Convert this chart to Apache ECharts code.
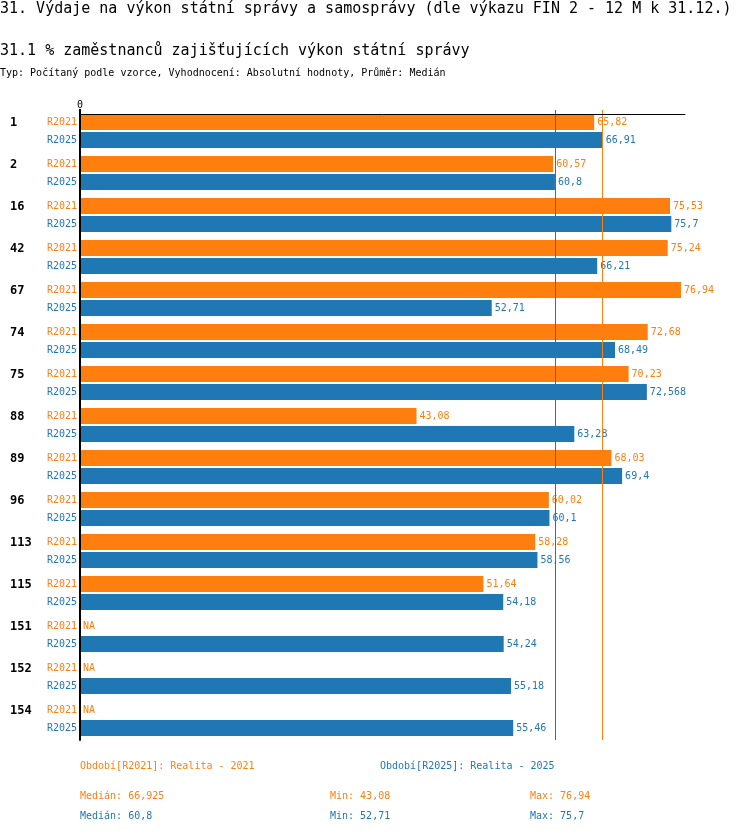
<!DOCTYPE html>
<html>
<head>
<meta charset="utf-8">
<script src="https://cdn.jsdelivr.net/npm/echarts@6/dist/echarts.min.js"></script>
<style>
  html, body { margin: 0; padding: 0; background: #fff; }
  #chart { width: 750px; height: 834px; }
</style>
</head>
<body>
<div id="chart"></div>
<script>
var mono = '"DejaVu Sans Mono", "Liberation Mono", monospace';
var orange = '#ff7f0e';
var blue = '#1f77b4';

// data
var categories = ['1', '2', '16', '42', '67', '74', '75', '88', '89', '96', '113', '115', '151', '152', '154'];
var r2021 = [65.82, 60.57, 75.53, 75.24, 76.94, 72.68, 70.23, 43.08, 68.03, 60.02, 58.28, 51.64, null, null, null];
var r2025 = [66.91, 60.8, 75.7, 66.21, 52.71, 68.49, 72.568, 63.28, 69.4, 60.1, 58.56, 54.18, 54.24, 55.18, 55.46];
var periods = ['R2021', 'R2025'];
var periodNames = ['Období[R2021]: Realita - 2021', 'Období[R2025]: Realita - 2025'];

function fmt(v) {
  return String(v).replace('.', ',');
}
function clean(arr) {
  return arr.filter(function (v) { return v != null; });
}
function median(arr) {
  var a = clean(arr).sort(function (x, y) { return x - y; });
  var m = Math.floor(a.length / 2);
  return a.length % 2 ? a[m] : (a[m - 1] + a[m]) / 2;
}
function min(arr) { return Math.min.apply(null, clean(arr)); }
function max(arr) { return Math.max.apply(null, clean(arr)); }

var med21 = median(r2021), med25 = median(r2025);

function valueSeries(name, arr, color, med) {
  return {
    name: name,
    type: 'bar',
    yAxisIndex: 0,
    barWidth: 16,
    barGap: '12.5%',
    itemStyle: { color: color },
    data: arr.map(function (v) { return v == null ? 0 : v; }),
    label: {
      show: true,
      position: 'right',
      distance: 3,
      color: color,
      fontFamily: mono,
      fontSize: 10,
      formatter: function (p) {
        return arr[p.dataIndex] == null ? 'NA' : fmt(arr[p.dataIndex]);
      }
    },
    markLine: {
      silent: true,
      symbol: 'none',
      label: { show: false },
      lineStyle: { color: color, width: 1, type: 'solid' },
      data: [{ xAxis: med }]
    }
  };
}

function labelSeries(name, color) {
  return {
    type: 'bar',
    yAxisIndex: 1,
    barWidth: 16,
    barGap: '12.5%',
    silent: true,
    itemStyle: { color: 'transparent' },
    data: categories.map(function () { return 0; }),
    label: {
      show: true,
      position: 'left',
      distance: 3,
      color: color,
      fontFamily: mono,
      fontSize: 10,
      formatter: name
    }
  };
}

function txt(text, x, y, size, color, weight) {
  return {
    type: 'text',
    x: x,
    y: y,
    silent: true,
    style: {
      text: text,
      font: (weight || 'normal') + ' ' + size + 'px ' + mono,
      fill: color,
      verticalAlign: 'middle'
    }
  };
}

var option = {
  animation: false,
  backgroundColor: '#fff',
  grid: { left: 80, top: 110, width: 605, height: 630 },
  xAxis: {
    type: 'value',
    position: 'top',
    offset: -4,
    z: 10,
    min: 0,
    max: 77.45,
    interval: 1000,
    axisLine: { show: true, lineStyle: { color: '#000', width: 1 } },
    axisTick: { show: true, length: 5, lineStyle: { color: '#000', width: 2 } },
    axisLabel: { color: '#000', fontFamily: mono, fontSize: 10, margin: 4, showMaxLabel: false },
    splitLine: { show: false }
  },
  yAxis: [{
    type: 'category',
    inverse: true,
    z: 10,
    data: categories,
    axisLine: { show: true, lineStyle: { color: '#000', width: 2 } },
    axisTick: { show: false },
    axisLabel: {
      align: 'left',
      verticalAlign: 'bottom',
      lineHeight: 16,
      margin: 70,
      color: '#000',
      fontFamily: mono,
      fontSize: 12,
      fontWeight: 'bold'
    }
  }, {
    type: 'category',
    inverse: true,
    position: 'left',
    data: categories,
    show: false
  }],
  graphic: [
    txt('31. Výdaje na výkon státní správy a samosprávy (dle výkazu FIN 2 - 12 M k 31.12.)', 0, 9, 15, '#000'),
    txt('31.1 % zaměstnanců zajišťujících výkon státní správy', 0, 51, 15, '#000'),
    txt('Typ: Počítaný podle vzorce, Vyhodnocení: Absolutní hodnoty, Průměr: Medián', 0, 73, 10, '#000'),
    txt(periodNames[0], 80, 766, 10, orange),
    txt(periodNames[1], 380, 766, 10, blue),
    txt('Medián: ' + fmt(med21), 80, 796, 10, orange),
    txt('Min: ' + fmt(min(r2021)), 330, 796, 10, orange),
    txt('Max: ' + fmt(max(r2021)), 530, 796, 10, orange),
    txt('Medián: ' + fmt(med25), 80, 816, 10, blue),
    txt('Min: ' + fmt(min(r2025)), 330, 816, 10, blue),
    txt('Max: ' + fmt(max(r2025)), 530, 816, 10, blue)
  ],
  series: [
    valueSeries(periods[0], r2021, orange, med21),
    valueSeries(periods[1], r2025, blue, med25),
    labelSeries(periods[0], orange),
    labelSeries(periods[1], blue)
  ]
};

var myChart = echarts.init(document.getElementById('chart'));
myChart.setOption(option);
</script>
</body>
</html>
